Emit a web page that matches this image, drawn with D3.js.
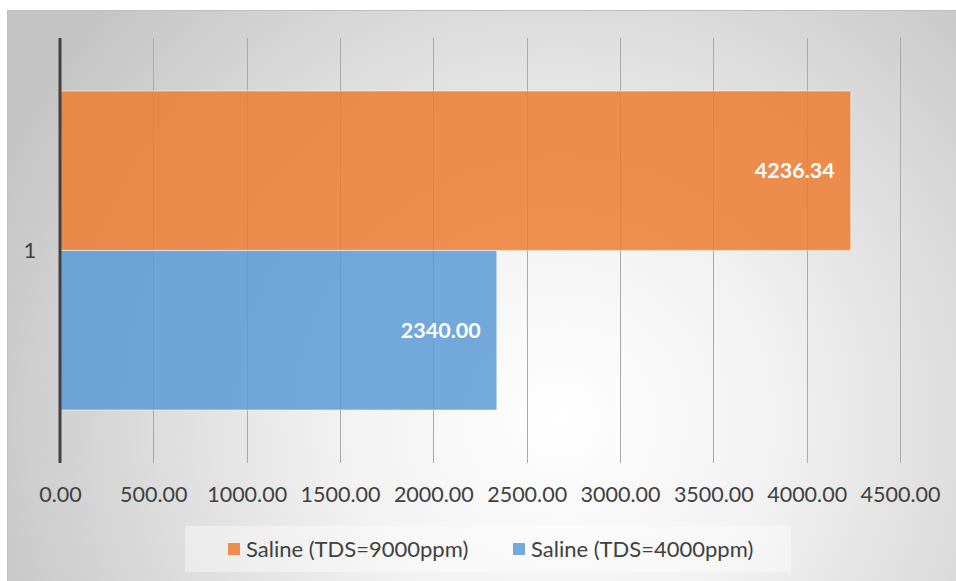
<!DOCTYPE html>
<html>
<head>
<meta charset="utf-8">
<script src="https://cdn.jsdelivr.net/npm/d3@7"></script>
<style>
  html, body { margin: 0; padding: 0; background: #ffffff; }
  svg { display: block; }
  text { font-family: Lato, "Open Sans", sans-serif; }
</style>
</head>
<body>
<script>
const categories = ["1"];
const seriesNames = ["Saline (TDS=9000ppm)", "Saline (TDS=4000ppm)"];
const seriesValues = [4236.34, 2340.00];
const seriesColors = ["#ED7D31", "#5B9BD5"];
const tickValues = [0, 500, 1000, 1500, 2000, 2500, 3000, 3500, 4000, 4500];

const W = 956, H = 581;
const svg = d3.select("body").append("svg").attr("width", W).attr("height", H);

const defs = svg.append("defs");
const grad = defs.append("radialGradient").attr("id", "bg")
  .attr("gradientUnits", "userSpaceOnUse")
  .attr("cx", 560).attr("cy", 420).attr("r", 620);
grad.append("stop").attr("offset", "0%").attr("stop-color", "#ffffff");
grad.append("stop").attr("offset", "35%").attr("stop-color", "#f2f2f2");
grad.append("stop").attr("offset", "100%").attr("stop-color", "#c4c4c4");

// chart area
svg.append("rect").attr("x", 7.5).attr("y", 10.5).attr("width", W - 7).attr("height", H - 10)
  .attr("fill", "url(#bg)").attr("stroke", "#bfbfbf").attr("stroke-width", 1);

const x = d3.scaleLinear().domain([0, 4500]).range([60, 900]);
const yCat = d3.scaleBand().domain(categories).range([38, 463]).paddingInner(0).paddingOuter(0.166);
const ySer = d3.scaleBand().domain(seriesNames).range([0, yCat.bandwidth()]).padding(0);

// gridlines
svg.append("g").selectAll("line").data(tickValues.filter(d => d > 0)).join("line")
  .attr("x1", d => Math.round(x(d)) + 0.5).attr("x2", d => Math.round(x(d)) + 0.5)
  .attr("y1", 38).attr("y2", 463)
  .attr("stroke", "#a9a9a9").attr("stroke-width", 1);

// bars
const gCat = svg.append("g").selectAll("g").data(categories).join("g")
  .attr("transform", d => `translate(0,${yCat(d)})`);

seriesNames.forEach((s, i) => {
  gCat.append("rect")
    .attr("x", x(0)).attr("y", ySer(s))
    .attr("width", x(seriesValues[i]) - x(0)).attr("height", ySer.bandwidth())
    .attr("fill", seriesColors[i]).attr("fill-opacity", 0.85)
    .attr("stroke", "#ffffff").attr("stroke-opacity", 0.45).attr("stroke-width", 1.2);
  gCat.append("text")
    .attr("x", x(seriesValues[i]) - 16).attr("y", ySer(s) + ySer.bandwidth() / 2)
    .attr("dy", "0.36em").attr("text-anchor", "end")
    .attr("fill", "#ffffff").attr("font-weight", "bold").attr("font-size", 21.5)
    .text(seriesValues[i].toFixed(2));
});

// category axis line
svg.append("line").attr("x1", x(0)).attr("x2", x(0)).attr("y1", 38).attr("y2", 463)
  .attr("stroke", "#404040").attr("stroke-width", 3);

// category label
svg.append("g").selectAll("text").data(categories).join("text")
  .attr("x", 30).attr("y", d => yCat(d) + yCat.bandwidth() / 2)
  .attr("dy", "0.36em").attr("text-anchor", "middle")
  .attr("fill", "#404040").attr("font-size", 22).text(d => d);

// x axis tick labels
const xAxis = d3.axisBottom(x).tickValues(tickValues).tickFormat(d => d.toFixed(2)).tickSize(0).tickPadding(0);
const gx = svg.append("g").attr("transform", "translate(0,487)").call(xAxis);
gx.select(".domain").remove();
gx.selectAll("text").attr("font-size", 21.5).attr("fill", "#404040")
  .attr("font-family", "Lato, 'Open Sans', sans-serif").attr("dy", "0.71em");

// legend
svg.append("rect").attr("x", 185).attr("y", 526).attr("width", 606).attr("height", 46)
  .attr("fill", "#ffffff").attr("fill-opacity", 0.4);
const legendX = [228, 513];
const lg = svg.append("g").selectAll("g").data(seriesNames).join("g")
  .attr("transform", (d, i) => `translate(${legendX[i]},549)`);
lg.append("rect").attr("x", 0).attr("y", -6).attr("width", 12).attr("height", 12)
  .attr("fill", (d, i) => seriesColors[i]).attr("fill-opacity", 0.85);
lg.append("text").attr("x", 18).attr("y", 0).attr("dy", "0.36em")
  .attr("font-size", 22).attr("fill", "#404040").text(d => d);
</script>
</body>
</html>
